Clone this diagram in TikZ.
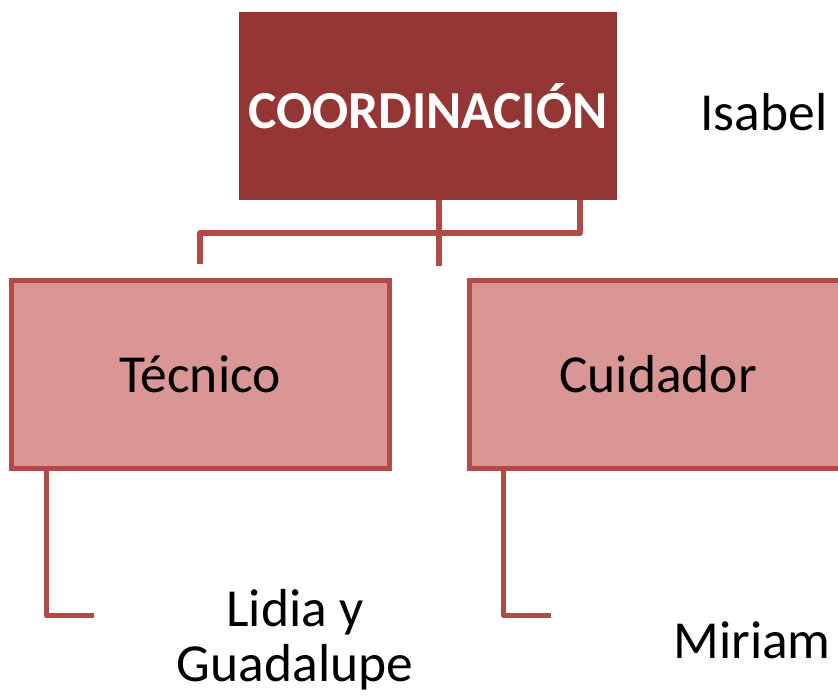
\documentclass[tikz,border=0pt]{standalone}
\usepackage{fontspec}
\setmainfont{Carlito}
\usepackage{xcolor}

\definecolor{darkred}{HTML}{943634}
\definecolor{lightred}{HTML}{D99694}
\definecolor{edgered}{HTML}{B24A47}

\begin{document}
\begin{tikzpicture}[
        x=1pt, y=-1pt,
        box/.style={minimum width=378pt, minimum height=188pt, inner sep=0pt,
            font=\fontsize{53.5}{57}\selectfont},
        topbox/.style={box, fill=darkred, text=white, font=\fontsize{53.5}{57}\selectfont\bfseries},
        subbox/.style={box, fill=lightred, draw=edgered, line width=5pt},
        person/.style={inner sep=0pt, font=\fontsize{53.5}{55}\selectfont, align=center},
        link/.style={draw=edgered, line width=5.5pt, line join=round}
    ]
        \useasboundingbox (0,0) rectangle (838,696);
        \clip (0,0) rectangle (838,696);

        \node[topbox] (coord) at (428,106) {COORDINACIÓN};
        \node[subbox] (tecnico) at (200,374) {Técnico};
        \node[subbox] (cuidador) at (658,374) {Cuidador};

        \node[person, anchor=base] (isabel) at (764,130) {Isabel};
        \node[person] (lidia) at (295,640) {Lidia y\\Guadalupe};
        \node[person, anchor=base] (miriam) at (752,658) {Miriam};

        \draw[link] ([xshift=11pt]coord.south) -- ++(0,66);
        \draw[link] ([xshift=-37pt]coord.south east) -- ++(0,33) -| ([yshift=14pt]tecnico.north);

        \draw[link] ([xshift=38pt]tecnico.south west) |- ++(47,145);
        \draw[link] ([xshift=37pt]cuidador.south west) |- ++(47,145);
    \end{tikzpicture}
\end{document}
